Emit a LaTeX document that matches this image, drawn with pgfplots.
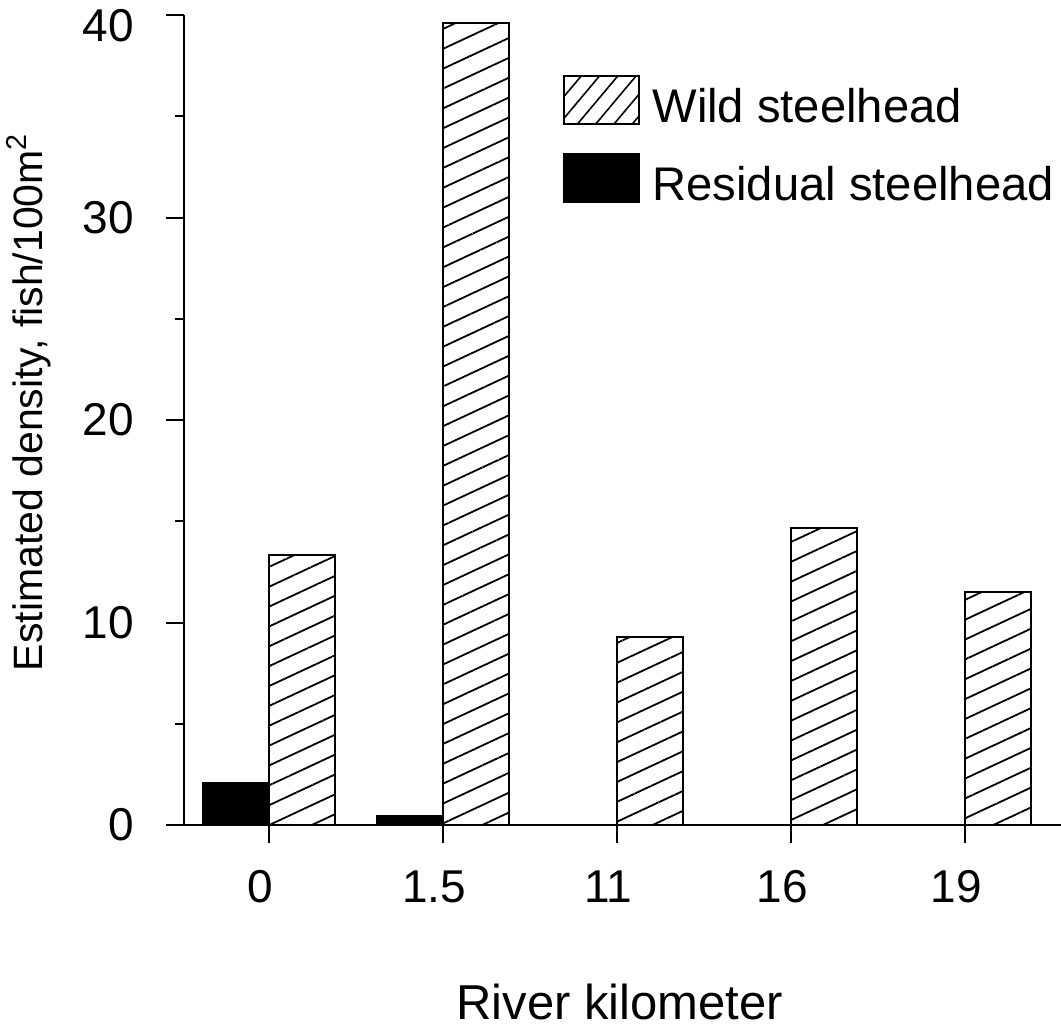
\documentclass[border=0pt]{standalone}
\usepackage{pgfplots}
\pgfplotsset{compat=1.18}
\usepackage{pgfplotstable}
\usetikzlibrary{patterns.meta}
\usepackage{fontspec}
\setmainfont{Liberation Sans}

\pgfplotstableread{
x res wild
0 2.07 13.33
1 0.44 39.6
2 0 9.28
3 0 14.67
4 0 11.5
}\datatable

\begin{document}
\begin{tikzpicture}
\useasboundingbox (-92pt,-102.5pt) rectangle (438.5pt,412.5pt);
\begin{axis}[
  scale only axis,
  width=438.5pt, height=405pt,
  xmin=-0.4885, xmax=4.55,
  ymin=0, ymax=40,
  axis x line=bottom, axis y line=left,
  axis line style={-, line width=1.3pt},
  every tick/.style={black, line width=1pt},
  tick align=outside,
  major tick length=9pt, minor tick length=4.5pt,
  ytick={0,10,20,30},
  extra y ticks={40},
  extra y tick labels={40},
  extra y tick style={yticklabel style={yshift=-5.5pt}},
  minor ytick={5,15,25,35},
  xtick={0,1,2,3,4},
  xticklabels={0,1.5,11,16,19},
  /pgf/number format/assume math mode=true,
  tick label style={font=\fontsize{23}{27}\selectfont},
  yticklabel style={anchor=east, inner sep=0pt, xshift=-16pt},
  xticklabel style={anchor=north, inner sep=0pt, xshift=-4.5pt, yshift=-13.5pt},
  xlabel={River kilometer},
  ylabel={Estimated density, fish/100m\textsuperscript{2}},
  xlabel style={font=\fontsize{24.5}{28}\selectfont, at={(axis description cs:0.497,0)}, anchor=base, yshift=-97pt},
  ylabel style={font=\fontsize{20.5}{24}\selectfont, at={(axis description cs:-0.1619,0.522)}, anchor=base, rotate=0},
  legend style={draw=none, fill=none, inner sep=0pt, at={(axis description cs:0.4322,0.926)}, anchor=north west,
    row sep=14pt, column sep=6pt, nodes={inner sep=0pt}, font=\fontsize{23.6}{27}\selectfont},
  legend cell align=left,
]
\addlegendimage{legend image code/.code={\draw[line width=1pt, pattern={Lines[angle=50,distance=7pt,line width=0.8pt]}] (0pt,-8.8pt) rectangle (37.5pt,15.2pt);}}
\addlegendentry{Wild steelhead}
\addlegendimage{legend image code/.code={\draw[line width=1pt, fill=black] (0pt,-8.8pt) rectangle (37.5pt,15.2pt);}}
\addlegendentry{Residual steelhead}

\addplot[ybar, bar width=33pt, bar shift=-16.5pt, draw=black, line width=1pt, fill=black, forget plot]
  table[x=x, y=res] {\datatable};
\addplot[ybar, bar width=33pt, bar shift=16.5pt, draw=black, line width=1.1pt, pattern={Lines[angle=25,distance=9pt,line width=0.9pt]}, forget plot]
  table[x=x, y=wild] {\datatable};
\end{axis}
\end{tikzpicture}
\end{document}
